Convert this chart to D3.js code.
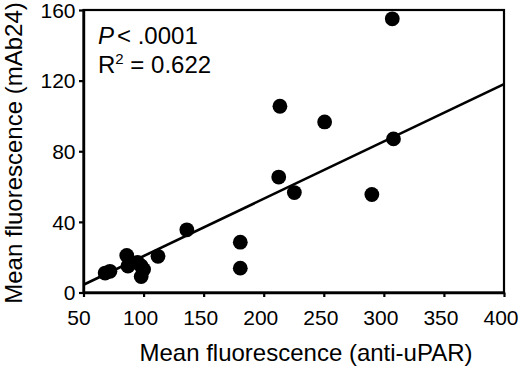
<!DOCTYPE html>
<html><head><meta charset="utf-8">
<script src="https://cdn.jsdelivr.net/npm/d3@7"></script>
<style>body{margin:0;background:#fff}svg{display:block}text{font-family:"Liberation Sans",Arial,sans-serif;fill:#000}</style>
</head><body><svg id="c" width="520" height="387"></svg>
<script>
const xValues = [68, 72, 86, 87, 95, 98, 98, 100, 112, 136, 180.5, 180.5, 213.5, 212.5, 225.5, 250.7, 290, 307, 308];
const yValues = [11, 12, 21, 15, 17, 15, 9, 13, 20.5, 35.5, 28.5, 13.8, 105.5, 65.4, 56.6, 96.6, 55.5, 155, 87];
const xTicks = [50, 100, 150, 200, 250, 300, 350, 400];
const yTicks = [0, 40, 80, 120, 160];
const fitLine = [[50, 4.4], [400, 118]];
const xTitle = "Mean fluorescence (anti-uPAR)";
const yTitle = "Mean fluorescence (mAb24)";

const svg = d3.select("#c");
const x = d3.scaleLinear().domain([50, 400]).range([83.5, 504]);
const y = d3.scaleLinear().domain([0, 160]).range([292.5, 10]);

// frame
svg.append("rect").attr("x", x(50)).attr("y", y(160)).attr("width", x(400) - x(50)).attr("height", y(0) - y(160))
  .attr("fill", "none").attr("stroke", "#000").attr("stroke-width", 2.2);

const xa = svg.append("g").attr("transform", `translate(0,${y(0)})`)
  .call(d3.axisBottom(x).tickValues(xTicks).tickSize(4.5).tickPadding(13).tickSizeOuter(0));
const ya = svg.append("g").attr("transform", `translate(${x(50)},0)`)
  .call(d3.axisLeft(y).tickValues(yTicks).tickSize(4.5).tickPadding(3.5).tickSizeOuter(0));
[xa, ya].forEach(g => {
  g.select(".domain").attr("stroke", "#000").attr("stroke-width", 2.4);
  g.selectAll(".tick line").attr("stroke", "#000").attr("stroke-width", 2.2);
  g.selectAll(".tick text").attr("font-size", 21).attr("font-family", '"Liberation Sans",Arial,sans-serif').attr("fill", "#000");
});
xa.selectAll(".tick text").attr("dx", d => d === 50 ? -5 : -3.5);
ya.selectAll(".tick text").attr("dy", "0.35em");

// fit line
svg.append("line").attr("x1", x(fitLine[0][0])).attr("y1", y(fitLine[0][1]))
  .attr("x2", x(fitLine[1][0])).attr("y2", y(fitLine[1][1]))
  .attr("stroke", "#000").attr("stroke-width", 2.6);

// points
svg.append("g").selectAll("circle").data(xValues.map((v, i) => [v, yValues[i]])).join("circle")
  .attr("cx", d => x(d[0])).attr("cy", d => y(d[1])).attr("r", 7.4).attr("fill", "#000");

// annotation
const t1 = svg.append("text").attr("x", 98).attr("y", 43.5).attr("font-size", 24);
t1.append("tspan").attr("font-style", "italic").text("P");
t1.append("tspan").attr("dx", 3).text("< .0001");
const t2 = svg.append("text").attr("x", 98).attr("y", 72.5).attr("font-size", 24);
t2.append("tspan").text("R");
t2.append("tspan").attr("font-size", 15).attr("dy", -9).text("2");
t2.append("tspan").attr("dy", 9).text(" = 0.622");

// titles
svg.append("text").attr("x", 306).attr("y", 360.5).attr("text-anchor", "middle").attr("font-size", 24).text(xTitle);
svg.append("text").attr("transform", "translate(21.5,153) rotate(-90)").attr("text-anchor", "middle").attr("font-size", 24).text(yTitle);
</script></body></html>
